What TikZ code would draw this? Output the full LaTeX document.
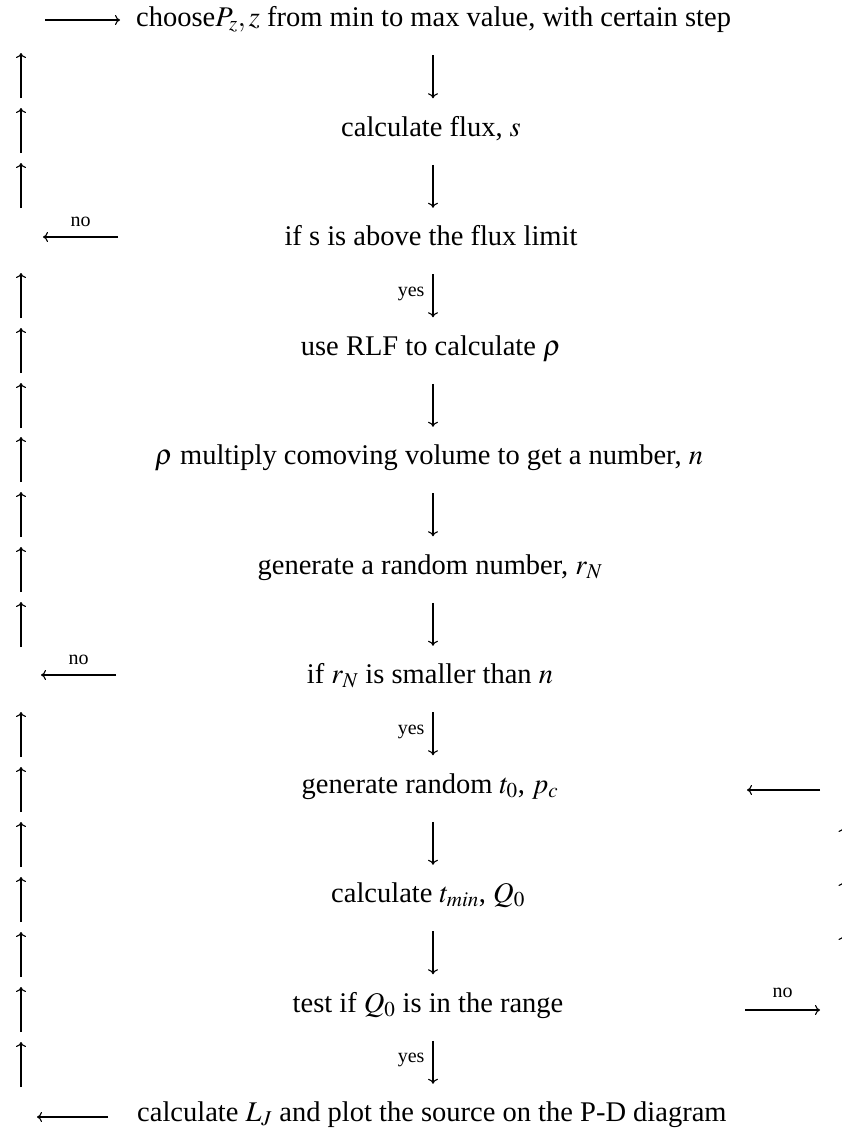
\documentclass[tikz,border=0pt]{standalone}
\usepackage{mathptmx}
\usepackage{fontspec}
\setmainfont{Liberation Serif}
\usetikzlibrary{arrows.meta}
\begin{document}
\begin{tikzpicture}[x=1pt,y=-1pt,
  box/.style={inner sep=0pt,text height=19.5pt,text depth=6.2pt,font=\fontsize{28.5}{34}\selectfont},
  lab/.style={inner sep=0pt,font=\fontsize{20}{24}\selectfont},
  arr/.style={line width=1.1pt,-{To[length=5pt,width=10pt]}},
  flow/.style={arr,shorten <=22.2pt,shorten >=18.2pt}]
\useasboundingbox (0,0) rectangle (842,1138);
\clip (0,0) rectangle (842,1138);
\coordinate (cx) at (433,0);
% nodes
\node[box,anchor=west] (n0) at (136,20) {choose$P_z, z$ from min to max value, with certain step};
\node[box] (n1) at (431,129.5) {calculate flux, $s$};
\node[box] (n2) at (431,239) {if s is above the flux limit};
\node[box] (n3) at (431,348.5) {use RLF to calculate $\rho$};
\node[box] (n4) at (429,458) {$\rho$ multiply comoving volume to get a number, $n$};
\node[box] (n5) at (430,567.5) {generate a random number, $r_N$};
\node[box] (n6) at (430,677) {if $r_N$ is smaller than $n$};
\node[box] (n7) at (430,786.5) {generate random $t_0$, $p_c$};
\node[box] (n8) at (428,896) {calculate $t_{min}$, $Q_0$};
\node[box] (n9) at (428,1005.5) {test if $Q_0$ is in the range};
\node[box,anchor=west] (n10) at (137,1115) {calculate $L_J$ and plot the source on the P-D diagram};
% main flow
\foreach \a/\b in {n0/n1,n1/n2,n3/n4,n4/n5,n5/n6,n7/n8,n8/n9}
  \draw[flow] (\a.south -| cx) -- (\b.north -| cx);
\foreach \a/\b in {n2/n3,n6/n7,n9/n10}
  \draw[flow] (\a.south -| cx) -- node[lab,left=8pt]{yes} (\b.north -| cx);
% side arrows
\coordinate (s0) at (45,20);   \coordinate (e0) at (120,20);
\draw[arr] (s0) -- (e0);
\coordinate (s1) at (118,237); \coordinate (e1) at (43,237);
\draw[arr] (s1) -- node[lab,above=10pt]{no} (e1);
\coordinate (s2) at (116,675); \coordinate (e2) at (41,675);
\draw[arr] (s2) -- node[lab,above=10pt]{no} (e2);
\coordinate (s3) at (820,790); \coordinate (e3) at (747,790);
\draw[arr] (s3) -- (e3);
\coordinate (s4) at (745,1010); \coordinate (e4) at (820,1010);
\draw[arr] (s4) -- node[lab,above=12pt]{no} (e4);
\coordinate (s5) at (108,1117); \coordinate (e5) at (37,1117);
\draw[arr] (s5) -- (e5);
% left return column
\foreach \t in {53,108,163,273,328,383,437,492,547,602,712,767,822,877,932,987,1042}
  \draw[arr] (21,{\t+45}) -- (21,\t);
% right column (mostly outside the page)
\foreach \t in {827,881,935}
  \draw[arr] (843.5,{\t+45}) -- (843.5,\t);
\end{tikzpicture}
\end{document}
